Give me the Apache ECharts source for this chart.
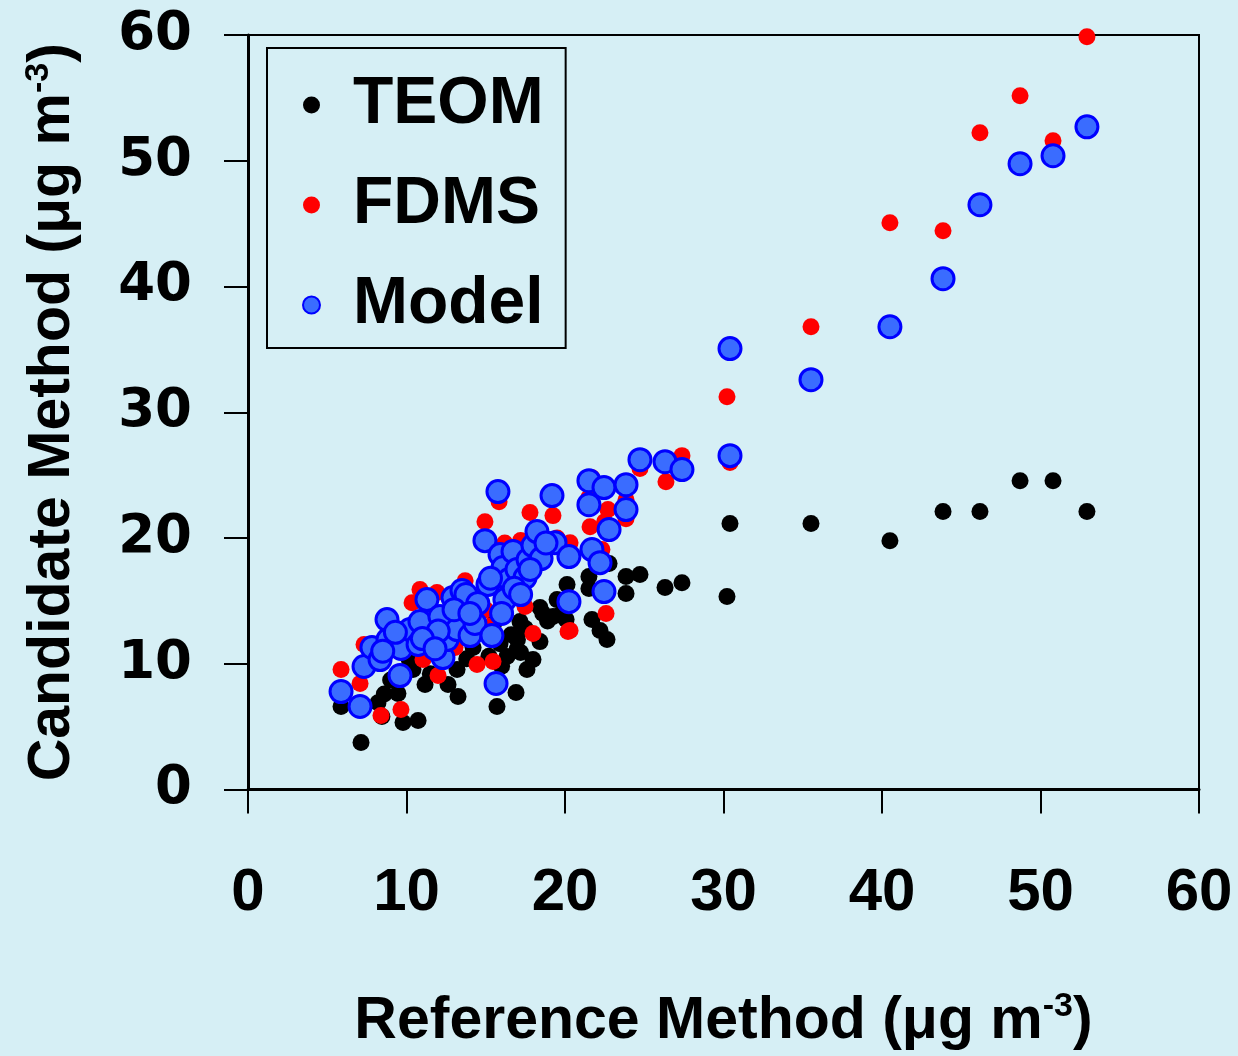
<!DOCTYPE html>
<html>
<head>
    <meta charset="UTF-8">
    <title>Candidate vs Reference Method</title>
    <script src="https://cdn.jsdelivr.net/npm/echarts@6/dist/echarts.min.js"></script>
</head>
<body style="margin: 0; overflow: hidden; background: #d6eff5;">
<div id="chart" style="width: 1238px; height: 1056px;"></div>
<script type="text/javascript">
    // axis ticks
    var ticks = [0, 10, 20, 30, 40, 50, 60];

    // TEOM vs reference [ref, candidate]
    var teom = [
        [5.87, 6.6], [7.13, 3.74], [8.45, 5.8], [8.2, 6.9], [9.78, 5.33], [10.73, 5.48], [9.46, 7.63],
        [11.17, 8.35], [12.62, 8.35], [13.25, 7.39], [13.19, 9.54], [10.41, 9.54], [15.71, 6.6],
        [16.91, 7.71], [17.6, 9.54], [17.98, 10.33], [16.97, 11.13], [16.34, 10.57], [18.42, 11.76],
        [19.24, 13.75], [18.42, 14.47], [17.16, 13.35], [14.2, 11.29], [20.13, 16.3], [21.51, 16.93],
        [21.51, 15.98], [22.78, 17.97], [23.85, 16.93], [24.73, 17.09], [23.85, 15.58], [26.31, 16.06],
        [27.38, 16.45], [21.7, 13.51], [22.21, 12.64], [22.65, 11.92], [20.07, 13.51], [30.41, 21.15],
        [30.22, 15.34], [35.52, 21.15], [40.5, 19.79], [43.85, 22.1], [46.18, 22.1], [48.71, 24.56],
        [50.79, 24.56], [52.93, 22.1],
        [15.2, 10.6], [15.9, 11.6], [16.6, 12.3], [17.2, 10.9], [14.8, 12.5], [16.0, 9.8], [12.0, 11.0],
        [11.5, 9.2], [13.8, 10.4], [18.9, 13.4], [19.7, 13.9], [9.0, 8.7], [8.6, 7.6], [12.9, 12.0],
        [14.6, 14.1], [17.5, 12.8], [15.5, 13.2], [10.2, 10.2], [19.5, 15.1], [18.6, 14.0], [17.0, 11.9]
    ];

    // FDMS vs reference
    var fdms = [
        [5.87, 9.54], [7.07, 8.43], [7.32, 11.53], [8.39, 5.88], [9.65, 6.36], [10.35, 14.86],
        [10.85, 15.9], [11.99, 9.06], [17.48, 14.55], [17.98, 12.4], [14.45, 9.94], [15.46, 10.17],
        [20.19, 12.56], [14.95, 21.3], [17.79, 22.02], [19.24, 21.78], [15.84, 22.89], [27.38, 26.55],
        [26.37, 24.48], [24.73, 25.52], [23.85, 23.05], [23.85, 21.54], [22.71, 22.26], [21.58, 20.9],
        [20.32, 19.63], [22.59, 13.99], [20.32, 12.64], [22.33, 19.08], [30.22, 31.24], [35.52, 36.8],
        [40.5, 45.07], [43.85, 44.44], [46.18, 52.23], [48.71, 55.17], [50.79, 51.59], [52.93, 59.86],
        [13.06, 11.29], [11.04, 10.33], [11.92, 15.66],
        [9.2, 12.2], [13.0, 14.4], [16.5, 17.0], [18.0, 18.5], [19.5, 20.0], [14.0, 15.0], [15.3, 13.0],
        [16.8, 15.5], [12.5, 13.0], [21.5, 23.2], [21.7, 24.8], [22.5, 21.3], [18.8, 19.3], [17.2, 19.8],
        [8.8, 11.0], [10.0, 12.5], [11.5, 11.8], [13.7, 16.6], [16.2, 19.6], [15.0, 14.3], [24.0, 22.4],
        [30.41, 26.0]
    ];

    // Model vs reference
    var model = [
        [5.87, 7.79], [7.07, 6.6], [7.32, 9.78], [7.82, 11.29], [8.33, 10.33], [8.77, 13.51],
        [8.83, 11.92], [9.59, 9.06], [9.65, 11.21], [10.22, 12.72], [10.73, 11.53], [10.85, 13.35],
        [11.29, 15.1], [12.11, 13.75], [12.3, 10.49], [12.56, 11.92], [12.93, 15.26], [13.19, 12.72],
        [13.5, 15.82], [13.75, 15.5], [14.01, 12.24], [14.32, 13.2], [14.95, 19.79], [15.14, 16.3],
        [15.39, 12.24], [15.65, 8.43], [15.9, 18.68], [16.09, 17.65], [16.21, 15.1], [16.47, 16.69],
        [16.72, 18.92], [16.97, 17.49], [17.48, 16.85], [17.67, 18.28], [17.98, 19.4], [18.23, 20.51],
        [18.49, 18.36], [19.18, 23.37], [19.37, 19.63], [20.25, 18.52], [20.25, 14.94], [21.51, 24.56],
        [21.51, 22.65], [21.7, 19.08], [22.21, 18.04], [22.46, 24.01], [22.46, 15.74], [22.78, 20.67],
        [23.85, 24.24], [23.85, 22.26], [24.73, 26.23], [26.31, 26.07], [27.38, 25.44], [30.41, 35.06],
        [30.41, 26.55], [35.52, 32.59], [40.5, 36.8], [43.85, 40.62], [46.18, 46.5], [48.71, 49.76],
        [50.79, 50.4], [52.93, 52.7], [15.77, 23.69],
        [14.5, 14.8], [15.3, 16.8], [16.0, 14.0], [16.8, 16.0], [17.2, 15.5], [13.0, 14.3], [12.0, 12.6],
        [11.0, 12.0], [9.3, 12.5], [8.5, 11.0], [17.8, 17.5], [18.8, 19.6], [14.0, 14.0], [11.8, 11.2]
    ];

    var chart = echarts.init(document.getElementById('chart'));

    var axisCommon = {
        type: 'value',
        min: 0,
        max: 60,
        interval: 10,
        splitLine: {show: false},
        axisLine: {show: true, onZero: false, lineStyle: {color: '#000', width: 3}},
        axisTick: {show: true, inside: false, length: 24, lineStyle: {color: '#000', width: 2}},
        nameLocation: 'middle'
    };

    var option = {
        backgroundColor: '#d6eff5',
        animation: false,
        grid: {
            left: 248,
            right: 39,
            top: 35,
            bottom: 266,
            show: true,
            borderColor: '#000',
            borderWidth: 2,
            backgroundColor: 'transparent'
        },
        legend: {
            orient: 'vertical',
            left: 267,
            top: 48,
            width: 300,
            padding: [24, 22, 10, 35],
            itemGap: 34,
            itemWidth: 17,
            itemHeight: 17,
            borderColor: '#000',
            borderWidth: 2,
            backgroundColor: '#d6eff5',
            textStyle: {
                fontFamily: 'Liberation Sans',
                fontWeight: 'bold',
                fontSize: 66,
                lineHeight: 66,
                color: '#000',
                padding: [0, 0, 0, 28]
            },
            data: ['TEOM', 'FDMS', 'Model']
        },
        xAxis: Object.assign({}, axisCommon, {
            name: 'Reference Method (μg m{sup|-3})',
            nameGap: 200,
            nameTextStyle: {
                fontFamily: 'Liberation Sans',
                fontWeight: 'bold',
                fontSize: 59,
                color: '#000',
                rich: {
                    sup: {
                        fontFamily: 'Liberation Sans',
                        fontWeight: 'bold',
                        fontSize: 34,
                        color: '#000',
                        verticalAlign: 'top',
                        padding: [0, 0, 30, 0]
                    }
                }
            },
            axisLabel: {
                margin: 74,
                fontFamily: 'Liberation Sans',
                fontWeight: 'bold',
                fontSize: 60,
                color: '#000'
            }
        }),
        yAxis: Object.assign({}, axisCommon, {
            name: 'Candidate Method (μg m{sup|-3})',
            nameGap: 164,
            nameTextStyle: {
                fontFamily: 'Liberation Sans',
                fontWeight: 'bold',
                fontSize: 59,
                color: '#000',
                rich: {
                    sup: {
                        fontFamily: 'Liberation Sans',
                        fontWeight: 'bold',
                        fontSize: 34,
                        color: '#000',
                        verticalAlign: 'top',
                        padding: [0, 0, 28, 0]
                    }
                }
            },
            axisLabel: {
                margin: 56,
                fontFamily: 'DejaVu Sans',
                fontWeight: 'bold',
                fontSize: 53,
                color: '#000'
            }
        }),
        series: [
            {
                name: 'TEOM',
                type: 'scatter',
                data: teom,
                symbolSize: 17,
                itemStyle: {color: '#000', opacity: 1}
            },
            {
                name: 'FDMS',
                type: 'scatter',
                data: fdms,
                symbolSize: 17,
                itemStyle: {color: '#ff0000', opacity: 1}
            },
            {
                name: 'Model',
                type: 'scatter',
                data: model,
                symbolSize: 22,
                itemStyle: {color: '#3a6cff', borderColor: '#0000ff', borderWidth: 3, opacity: 1}
            }
        ]
    };
    chart.setOption(option);
</script>
</body>
</html>
